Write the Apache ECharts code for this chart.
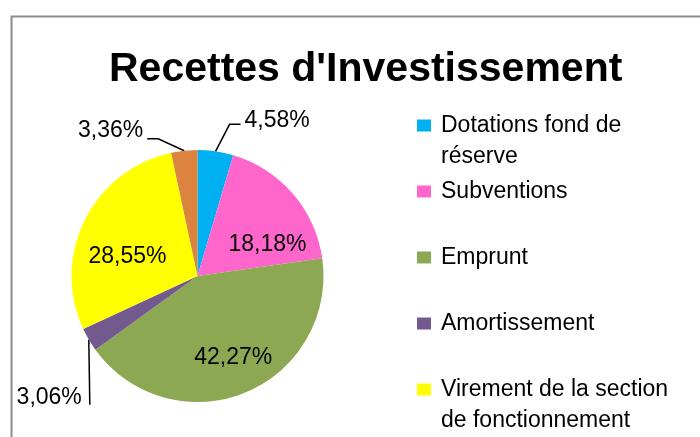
<!DOCTYPE html>
<html>
<head>
<meta charset="utf-8">
<script src="https://cdn.jsdelivr.net/npm/echarts@6/dist/echarts.min.js"></script>
<style>
  html, body { margin: 0; padding: 0; background: #fff; }
  #chart { width: 700px; height: 437px; }
</style>
</head>
<body>
<div id="chart"></div>
<script>
// pie data, in drawing order (clockwise from 12 o'clock)
const categories = [
  "Dotations fond de réserve",
  "Subventions",
  "Emprunt",
  "Amortissement",
  "Virement de la section de fonctionnement",
  "Autres recettes"
];
const shares = [4.58, 18.18, 42.27, 3.06, 28.55, 3.36];
const colors = ["#00B0F0", "#FF66CC", "#8DA852", "#725A8F", "#FFFF00", "#DA8440"];
// legend text split into lines as in the picture
const legendLines = {
  "Dotations fond de réserve": ["Dotations fond de", "réserve"],
  "Subventions": ["Subventions"],
  "Emprunt": ["Emprunt"],
  "Amortissement": ["Amortissement"],
  "Virement de la section de fonctionnement": ["Virement de la section", "de fonctionnement"],
  "Autres recettes": ["Autres recettes"]
};

const font = "'Liberation Sans', Arial, sans-serif";
const insideIdx = [1, 2, 4];
// nudges of the inside labels from the default half-radius spot
const insideShift = { 1: [20, 12], 2: [11, 20], 4: [-11, 10] };

const chart = echarts.init(document.getElementById("chart"), null, { renderer: "canvas" });

const option = {
  backgroundColor: "#fff",
  animation: false,
  color: colors,
  title: {
    text: "Recettes d'Investissement",
    left: 109,
    top: 49,
    padding: 0,
    textStyle: { fontFamily: font, fontWeight: "bold", fontSize: 41, color: "#000" }
  },
  graphic: [{
    type: "rect",
    left: 9, top: 14,
    shape: { width: 720, height: 460 },
    style: { fill: null, stroke: "#8c8c8c", lineWidth: 2 },
    silent: true
  }],
  legend: {
    orient: "vertical",
    left: 417,
    top: 79,
    height: 600,
    padding: 0,
    itemGap: -27,
    itemWidth: 14,
    itemHeight: 12,
    icon: "rect",
    data: categories,
    formatter: function (name) {
      const lines = legendLines[name].slice();
      if (lines.length < 2) lines.push(" ");
      return "\n" + lines.join("\n");
    },
    textStyle: { fontFamily: font, fontSize: 23, lineHeight: 31, color: "#000", padding: [0, 0, 0, 5] }
  },
  series: [{
    type: "pie",
    center: [197.5, 276],
    radius: 126,
    startAngle: 90,
    clockwise: true,
    avoidLabelOverlap: false,
    itemStyle: { borderWidth: 0 },
    label: {
      show: true,
      position: "outside",
      fontFamily: font,
      fontSize: 23,
      color: "#000",
      formatter: function (p) { return p.value.toFixed(2).replace(".", ",") + "%"; }
    },
    labelLine: { show: true, length: 20, length2: 10, lineStyle: { color: "#000", width: 1.5 } },
    labelLayout: function (params) {
      const i = params.dataIndex;
      if (insideIdx.indexOf(i) >= 0) {
        return { dx: insideShift[i][0], dy: insideShift[i][1] };
      }
      const p0 = params.labelLinePoints[0];
      if (i === 0) {
        return {
          x: p0[0] + 29, y: p0[1] - 31, align: "left", verticalAlign: "middle",
          labelLinePoints: [p0, [p0[0] + 14, p0[1] - 27], [p0[0] + 25, p0[1] - 27]]
        };
      }
      if (i === 5) {
        return {
          x: p0[0] - 41, y: p0[1] - 20, align: "right", verticalAlign: "middle",
          labelLinePoints: [p0, [p0[0] - 26, p0[1] - 12], [p0[0] - 37, p0[1] - 12]]
        };
      }
      return {
        x: p0[0] - 7, y: p0[1] + 58, align: "right", verticalAlign: "middle",
        labelLinePoints: [p0, [p0[0] + 1, p0[1] + 65]]
      };
    },
    data: categories.map(function (name, i) {
      const item = { name: name, value: shares[i] };
      if (insideIdx.indexOf(i) >= 0) {
        item.label = { position: "inside" };
        item.labelLine = { show: false };
      }
      return item;
    })
  }]
};

chart.setOption(option);
</script>
</body>
</html>
